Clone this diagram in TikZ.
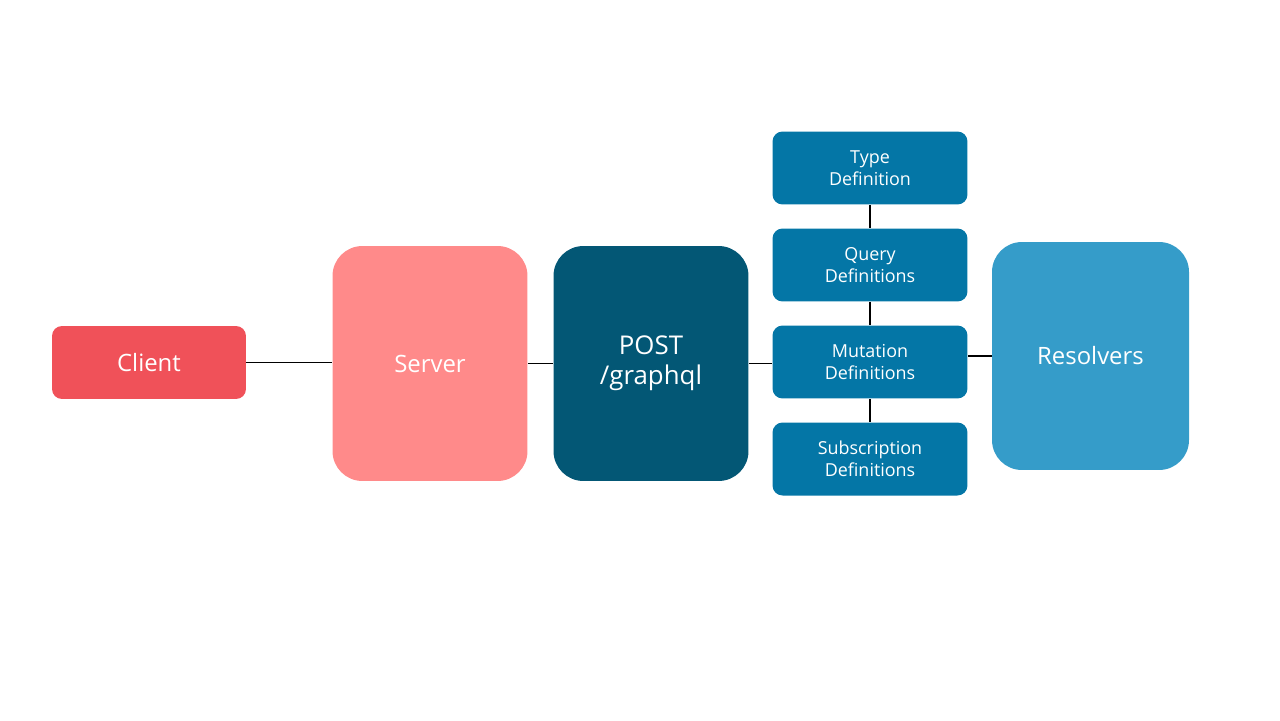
\documentclass[tikz,border=0pt]{standalone}
\usepackage{fontspec}
\setmainfont{Open Sans}
\definecolor{clientred}{HTML}{F05159}
\definecolor{serverpink}{HTML}{FF8A8A}
\definecolor{postteal}{HTML}{035775}
\definecolor{defblue}{HTML}{0476A6}
\definecolor{resblue}{HTML}{359CC9}
\begin{document}
\begin{tikzpicture}[
    x=0.02cm, y=-0.02cm,
    blk/.style={text=white, align=center, inner sep=0pt, font=\fontsize{13.6}{16}\selectfont},
    tall/.style={blk, minimum width=3.9cm, minimum height=4.7cm, rounded corners=17pt},
    defn/.style={blk, fill=defblue, minimum width=3.9cm, minimum height=1.46cm,
        rounded corners=5.7pt, font=\fontsize{10.2}{12.5}\selectfont},
    link/.style={draw=black, line width=0.8pt}
]
\useasboundingbox (0,0) rectangle (1280,720);

% --- left chain ---
\node[blk, fill=clientred, minimum width=3.88cm, minimum height=1.46cm,
    rounded corners=5.7pt] (client) at (149,362.5) {Client};
\node[tall, fill=serverpink] (server) at (430,363.5) {Server};
\node[tall, fill=postteal, font=\fontsize{14.7}{17}\selectfont] (post) at (651,363.5) {POST\\/graphql};

% --- schema definitions ---
\foreach \nm/\txt [count=\i from 0] in
    {tdef/{Type\\Definition}, qdef/{Query\\Definitions},
     mdef/{Mutation\\Definitions}, sdef/{Subscription\\Definitions}} {
    \node[defn] (\nm) at (870,168+\i*97) {\txt};
}

\node[tall, fill=resblue, minimum width=3.94cm, minimum height=4.56cm] (res) at (1090.5,356) {Resolvers};

% --- connectors ---
\draw[link] (client.east) -- (client.east -| server.west);
\draw[link] (server.east) -- (server.east -| post.west);
\draw[link] (post.east) -- (post.east -| mdef.west);
\draw[link] (res.west) -- (res.west -| mdef.east);
\draw[link] (tdef) -- (qdef);
\draw[link] (qdef) -- (mdef);
\draw[link] (mdef) -- (sdef);

\end{tikzpicture}
\end{document}
